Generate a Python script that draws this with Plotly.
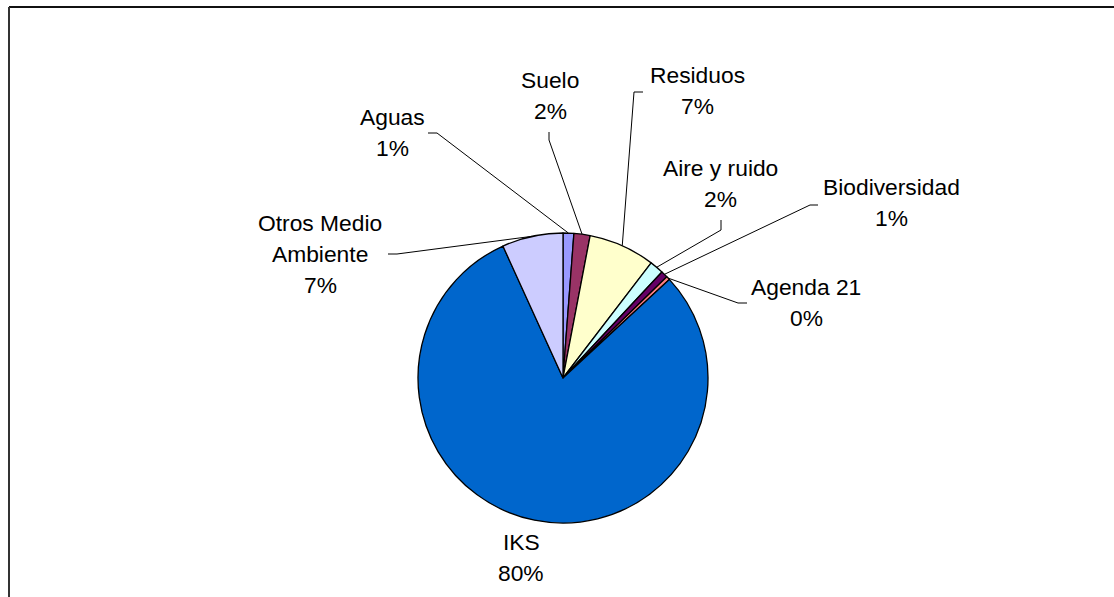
import math
import plotly.graph_objects as go

# ---- data ----
categories = ["Aguas", "Suelo", "Residuos", "Aire y ruido", "Biodiversidad",
              "Agenda 21", "IKS", "Otros Medio<br>Ambiente"]
values = [1.2, 1.8, 7.4, 1.55, 0.75, 0.4, 80.1, 6.8]
colors = ["#9999FF", "#993366", "#FFFFCC", "#CCFFFF", "#660066",
          "#FF8080", "#0066CC", "#CCCCFF"]

# ---- layout constants (pixels, in window coordinates) ----
W, H = 1114, 597
CX, CY, R = 563, 378, 145
FONT = dict(family="Liberation Sans, Arial, sans-serif", size=22.8, color="#000000")
LINE_GAP = 31

# label first-line centres (px)
label_pos = [(392, 117), (550, 80), (697, 75), (721, 168), (891, 187),
             (806, 287), (521, 542), (320, 223)]
# leader-line label-side points (px); None = no leader
leader_pts = [
    [(428, 133), (437, 133)],
    [(549, 132), (549, 140)],
    [(643, 92), (634, 92)],
    [(721, 220), (721, 230)],
    [(818, 205), (810, 205)],
    [(747, 303), (738, 303)],
    None,
    [(388, 254), (397, 254)],
]


def px(x):
    return x / W


def py(y):
    return 1 - y / H


total = sum(values)
pct_text = [f"{int(v / total * 100 + 0.5)}%" for v in values]

fig = go.Figure(go.Pie(
    labels=categories,
    values=values,
    sort=False,
    direction="clockwise",
    rotation=0,
    marker=dict(colors=colors, line=dict(color="#000000", width=1.3)),
    textinfo="none",
    hoverinfo="label+percent",
    showlegend=False,
    domain=dict(x=[px(CX - R), px(CX + R)], y=[py(CY + R), py(CY - R)]),
))

shapes = []
annotations = []
cum = 0.0
for i, (name, v) in enumerate(zip(categories, values)):
    mid = (cum + v / 2) / total * 2 * math.pi
    cum += v
    sx = CX + R * math.sin(mid)
    sy = CY - R * math.cos(mid)
    pts = leader_pts[i]
    if pts is not None:
        path = "M {} {}".format(px(pts[0][0]), py(pts[0][1]))
        path += " L {} {}".format(px(pts[1][0]), py(pts[1][1]))
        path += " L {} {}".format(px(sx), py(sy))
        shapes.append(dict(type="path", xref="paper", yref="paper", path=path,
                           line=dict(color="#000000", width=1)))
    lx, ly = label_pos[i]
    lines = name.split("<br>") + [pct_text[i]]
    for k, t in enumerate(lines):
        annotations.append(dict(
            x=px(lx), y=py(ly + k * LINE_GAP), xref="paper", yref="paper",
            text=t, showarrow=False, xanchor="center", yanchor="middle",
            font=FONT))

# chart frame (top and left edges visible)
shapes.append(dict(type="line", xref="paper", yref="paper",
                   x0=px(9), y0=py(7), x1=1.0, y1=py(7),
                   line=dict(color="#111111", width=2)))
shapes.append(dict(type="line", xref="paper", yref="paper",
                   x0=px(9), y0=py(7), x1=px(9), y1=0.0,
                   line=dict(color="#333333", width=2)))

fig.update_layout(
    width=W, height=H,
    margin=dict(l=0, r=0, t=0, b=0),
    paper_bgcolor="#FFFFFF",
    plot_bgcolor="#FFFFFF",
    shapes=shapes,
    annotations=annotations,
)

fig.write_html(
    "out.html",
    config={"displayModeBar": False},
    post_script="document.body.style.margin='0px';document.body.style.overflow='hidden';",
)
